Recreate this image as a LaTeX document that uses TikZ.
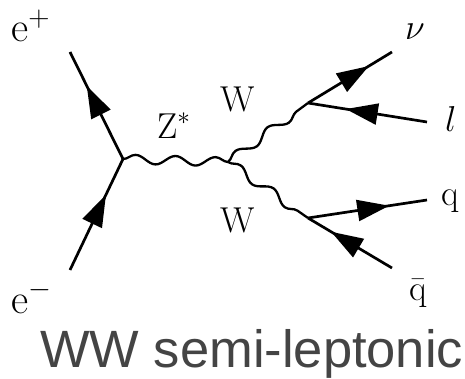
\documentclass[tikz,border=0pt]{standalone}
\usepackage{fix-cm}
\usepackage{fontspec}
\newfontfamily\titlefont{Liberation Sans}
\usetikzlibrary{decorations.pathmorphing,decorations.markings,arrows.meta}
\definecolor{titlegray}{HTML}{444444}
\tikzset{
  fermion/.style={line width=2.7pt, postaction={decorate},
    decoration={markings, mark=at position 0.5 with {\arrow[xshift=22pt]{Triangle[length=32pt,width=21pt]}}}},
  boson/.style={line width=2.3pt, decorate,
    decoration={snake, amplitude=4.5pt, segment length=40pt}},
  lab/.style={anchor=base west, inner sep=0pt, font=\fontsize{36}{36}\selectfont},
}
\begin{document}
\begin{tikzpicture}[x=1pt,y=1pt]
\useasboundingbox (0,0) rectangle (465,378);
\coordinate (ep) at (70,326);
\coordinate (v1) at (123,219);
\coordinate (em) at (70,108);
\coordinate (v2) at (228,216);
\coordinate (v3) at (308,275);
\coordinate (v4) at (308,160);
\coordinate (nu) at (392,326);
\coordinate (l) at (427,256);
\coordinate (q) at (427,178);
\coordinate (qb) at (392,110);
\draw[fermion] (v1) -- (ep);
\draw[fermion] (em) -- (v1);
\draw[boson] (v1) -- (v2);
\draw[boson] (v2) -- (v3);
\draw[boson] (v2) -- (v4);
\draw[fermion] (v3) -- (nu);
\draw[fermion] (l) -- (v3);
\draw[fermion] (v4) -- (q);
\draw[fermion] (qb) -- (v4);
\node[lab, font=\fontsize{42}{42}\selectfont] (eplab) at (11,336) {$\mathrm{e}^+$};
\node[lab, font=\fontsize{42}{42}\selectfont] (emlab) at (11,65) {$\mathrm{e}^-$};
\node[lab] (zlab) at (157,240) {$\mathrm{Z}^*$};
\node[lab] (w1lab) at (220,266) {W};
\node[lab] (w2lab) at (220,146) {W};
\node[lab] (nulab) at (405,338) {$\nu$};
\node[lab] (llab) at (445,246) {$l$};
\node[lab] (qlab) at (441,173) {q};
\node[lab] (qblab) at (409,78) {$\bar{\mathrm{q}}$};
\node[anchor=base west, inner sep=0pt, text=titlegray, font=\titlefont\fontsize{52.5}{52.5}\selectfont] (title) at (40,11) {WW semi-leptonic};
\end{tikzpicture}
\end{document}
